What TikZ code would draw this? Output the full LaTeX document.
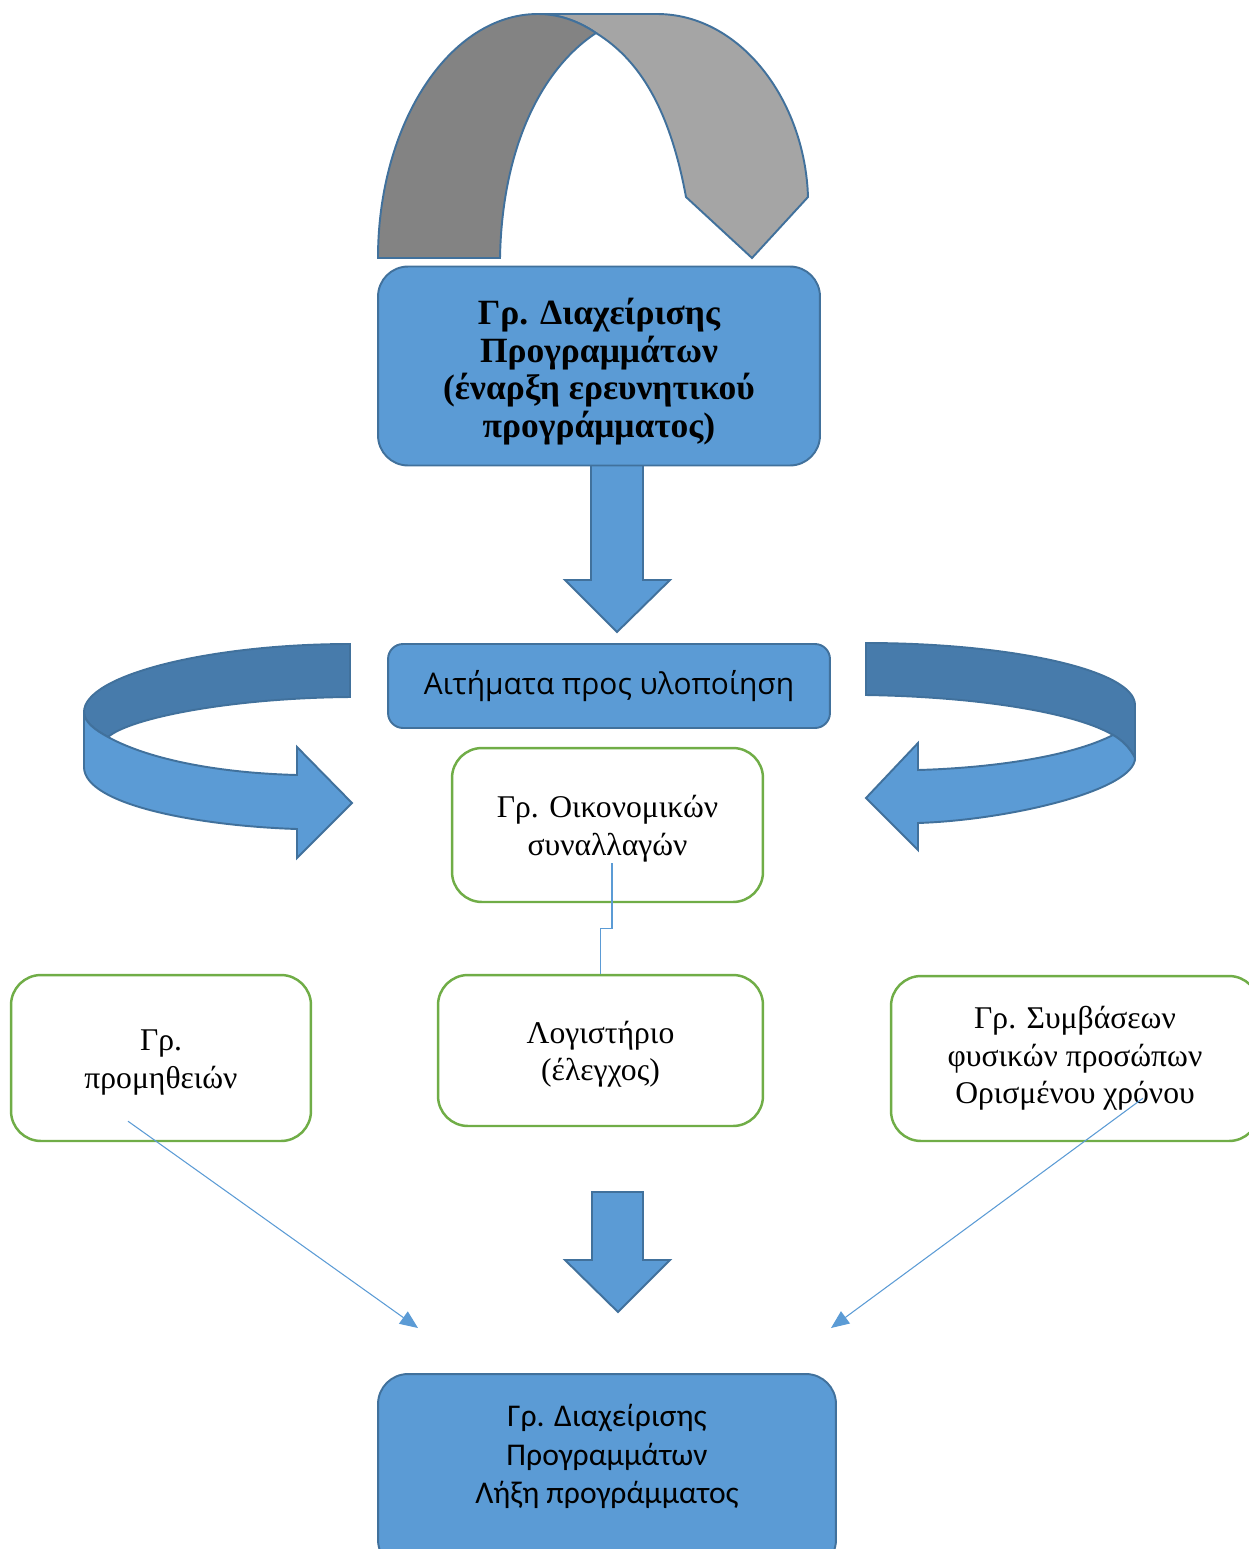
\documentclass[tikz,border=0pt]{standalone}
\usepackage{fontspec}
\setmainfont{Liberation Serif}
\newfontfamily\calibri{Carlito}
\newfontfamily\opensans{Open Sans}
\usetikzlibrary{arrows.meta}
\definecolor{boxblue}{RGB}{91,155,213}
\definecolor{edgeblue}{RGB}{65,113,156}
\definecolor{bandblue}{RGB}{71,123,171}
\definecolor{boxgreen}{RGB}{112,173,71}
\definecolor{archdark}{RGB}{131,131,131}
\definecolor{archlight}{RGB}{165,165,165}
\newcommand{\topstrut}[1]{\rule{0pt}{#1}}

\begin{document}
\begin{tikzpicture}[x=0.02cm,y=-0.02cm,
  bluebox/.style={rectangle,rounded corners=0.6cm,draw=edgeblue,fill=boxblue,line width=1.1pt,align=center},
  greenbox/.style={rectangle,rounded corners=0.6cm,draw=boxgreen,fill=white,line width=1.4pt,align=center,font=\fontsize{18}{21.3}\selectfont},
  blockarrow/.style={draw=edgeblue,fill=boxblue,line width=1.1pt,line join=miter},
  bandarrow/.style={draw=edgeblue,fill=bandblue,line width=1.1pt},
  link/.style={draw=boxblue,line width=0.6pt}]
\useasboundingbox (0,0) rectangle (1248,1549);

% arch over the start box
\draw[draw=edgeblue,fill=archlight,line width=1.1pt] (538,14) -- (657,14)
  .. controls (740,14) and (805,100) .. (808,197) -- (752,258) -- (686,197)
  .. controls (670,110) and (640,60) .. (596,33)
  .. controls (580,22) and (560,14) .. (538,14) -- cycle;
\draw[draw=edgeblue,fill=archdark,line width=1.1pt] (378,258)
  .. controls (378,123) and (450,14) .. (538,14)
  .. controls (560,14) and (580,22) .. (596,33)
  .. controls (540,70) and (502,150) .. (500,258) -- cycle;

\draw[blockarrow] (591,460) -- (591,580) -- (565,580) -- (617,632) -- (670,580) -- (643,580) -- (643,460) -- cycle;
\path (599,366) node[bluebox,minimum width=8.84cm,minimum height=3.98cm,
  font=\bfseries\fontsize{20.2}{21.3}\selectfont] (start)
  {\topstrut{0.75cm}Γρ. Διαχείρισης\\Προγραμμάτων\\(έναρξη ερευνητικού\\προγράμματος)};

\path (609,686) node[bluebox,rounded corners=0.3cm,minimum width=8.84cm,minimum height=1.68cm,
  font=\opensans\fontsize{17}{20}\selectfont] (req) {Αιτήματα προς υλοποίηση};

% turning arrows beside the requests
\draw[bandarrow] (350,644) .. controls (210,644) and (84,675) .. (84,712)
  .. controls (84,722) and (95,730) .. (108,737)
  .. controls (130,718) and (230,698) .. (350,697) -- cycle;
\draw[blockarrow] (84,712) -- (84,767) .. controls (84,805) and (200,826) .. (297,829)
  -- (297,858) -- (352,803) -- (297,747) -- (297,775)
  .. controls (220,773) and (150,760) .. (108,737)
  .. controls (95,730) and (84,722) .. (84,712) -- cycle;
\draw[bandarrow] (866,643) .. controls (1010,643) and (1135,670) .. (1135,705) -- (1135,758)
  .. controls (1130,748) and (1122,740) .. (1113,735)
  .. controls (1080,715) and (990,697) .. (866,695) -- cycle;
\draw[blockarrow] (1113,735) .. controls (1122,740) and (1130,748) .. (1135,758)
  .. controls (1135,790) and (1010,820) .. (918,823) -- (918,850) -- (866,798)
  -- (918,743) -- (918,770) .. controls (990,768) and (1070,757) .. (1113,735) -- cycle;

\path (607.5,825) node[greenbox,minimum width=6.22cm,minimum height=3.08cm] (fin)
  {\topstrut{0.6cm}Γρ. Οικονομικών\\συναλλαγών};
\path (600.5,1050.5) node[greenbox,minimum width=6.5cm,minimum height=3.02cm] (acc)
  {\topstrut{0.6cm}Λογιστήριο\\(έλεγχος)};
\path (161,1058) node[greenbox,minimum width=6.0cm,minimum height=3.32cm] (supp)
  {\topstrut{0.6cm}Γρ.\\προμηθειών};
\path (1075,1058.5) node[greenbox,minimum width=7.36cm,minimum height=3.3cm] (contr)
  {Γρ. Συμβάσεων\\φυσικών προσώπων\\Ορισμένου χρόνου};

\draw[link] ([xshift=0.09cm,yshift=0.8cm]fin.south) -- ++(0,65) -| (acc.north);

\draw[blockarrow] (592,1192) -- (592,1260) -- (565,1260) -- (618,1312) -- (670,1260) -- (643,1260) -- (643,1192) -- cycle;

\path (607,1472) node[bluebox,minimum width=9.16cm,minimum height=3.92cm,
  font=\calibri\fontsize{18}{22}\selectfont] (end)
  {Γρ. Διαχείρισης\\Προγραμμάτων\\Λήξη προγράμματος\rule[-0.72cm]{0pt}{0pt}};

\coordinate (suppend) at (418,1328);
\coordinate (contrend) at (831,1328);
\draw[link,-{Triangle[length=0.36cm,width=0.3cm]}] ([xshift=-0.66cm,yshift=0.42cm]supp.south) -- (suppend);
\draw[link,-{Triangle[length=0.36cm,width=0.3cm]}] ([xshift=1.36cm,yshift=0.88cm]contr.south) -- (contrend);
\end{tikzpicture}
\end{document}
